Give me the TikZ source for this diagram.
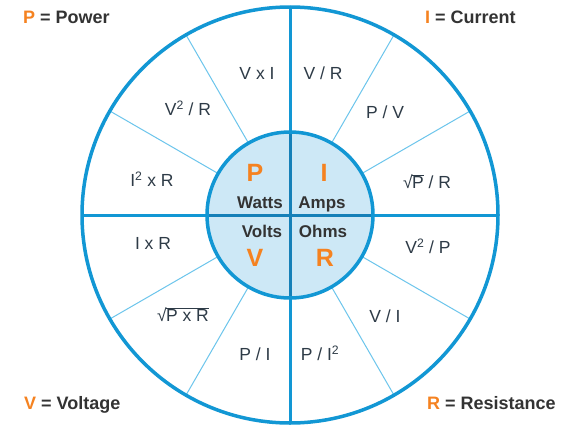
\documentclass[tikz,border=0pt]{standalone}
\usepackage{fontspec}
\setmainfont{Liberation Sans}
\usetikzlibrary{calc}
\definecolor{mainblue}{HTML}{1297D4}
\definecolor{darkblue}{HTML}{1580B8}
\definecolor{spokeblue}{HTML}{6CC5EC}
\definecolor{innerfill}{HTML}{CDE8F6}
\definecolor{orng}{HTML}{F58220}
\definecolor{txt}{HTML}{2E3B47}
\definecolor{lbl}{HTML}{333333}
\newcommand\mysq[1]{√\kern-0.6pt\vbox{\hrule height0.7pt\kern1.0pt\hbox{#1}}}
\begin{document}
\begin{tikzpicture}[x=1pt,y=-1pt,
  formula/.style={font=\fontsize{17.5}{20}\selectfont, text=txt, inner sep=0pt, anchor=base},
  unitlbl/.style={font=\fontsize{17}{20}\selectfont\bfseries, text=lbl, inner sep=0pt, anchor=base},
  bigletter/.style={font=\fontsize{25}{28}\selectfont\bfseries, text=orng, inner sep=0pt, anchor=base},
  legendlbl/.style={font=\fontsize{18}{20}\selectfont\bfseries, text=lbl, inner sep=0pt, anchor=base west},
  spokeline/.style={spokeblue, line width=1pt},
  mainline/.style={mainblue, line width=3pt},
  innerline/.style={darkblue, line width=3pt}]
\fill[white] (0,0) rectangle (575,431);
\useasboundingbox (0,0) rectangle (575,431);
\coordinate (O) at (290,215);
% spokes
\foreach \a in {30,60,120,150,210,240,300,330}
  \draw[spokeline] ($(O)+(\a:83)$) -- ($(O)+(\a:208)$);
% quadrant lines
\coordinate (Wo) at ($(O)+(-208,0)$);
\coordinate (Eo) at ($(O)+(208,0)$);
\coordinate (No) at ($(O)+(0,-208)$);
\coordinate (So) at ($(O)+(0,208)$);
\draw[mainline] (Wo) -- (Eo);
\draw[mainline] (No) -- (So);
% outer circle
\draw[mainblue, line width=3.5pt] (O) circle (208);
% inner circle
\fill[innerfill] (O) circle (83);
\coordinate (Wi) at ($(O)+(-83,0)$);
\coordinate (Ei) at ($(O)+(83,0)$);
\coordinate (Ni) at ($(O)+(0,-83)$);
\coordinate (Si) at ($(O)+(0,83)$);
\draw[innerline] (Wi) -- (Ei);
\draw[innerline] (Ni) -- (Si);
\draw[mainblue, line width=3.5pt] (O) circle (83);
% inner labels
\node[bigletter] (bP) at (255,181) {P};
\node[bigletter] (bI) at (324,181) {I};
\node[bigletter] (bV) at (255,266) {V};
\node[bigletter] (bR) at (325,266) {R};
\node[unitlbl] (uW) at (260,208) {Watts};
\node[unitlbl] (uA) at (322,208) {Amps};
\node[unitlbl] (uV) at (262,237) {Volts};
\node[unitlbl] (uO) at (323,237) {Ohms};
% formulas
\node[formula] (f1) at (257,79.5) {V x I};
\node[formula] (f2) at (188,115.5) {V\textsuperscript{2} / R};
\node[formula] (f3) at (152,186.5) {I\textsuperscript{2} x R};
\node[formula] (f4) at (323,79.5) {V / R};
\node[formula] (f5) at (385,118.5) {P / V};
\node[formula] (f6) at (427,188.5) {\mysq{P} / R};
\node[formula] (f7) at (153,249.5) {I x R};
\node[formula] (f8) at (183,321.5) {\mysq{P x R}};
\node[formula] (f9) at (255,360.5) {P / I};
\node[formula] (f10) at (428,253.5) {V\textsuperscript{2} / P};
\node[formula] (f11) at (385,322.5) {V / I};
\node[formula] (f12) at (320,360.5) {P / I\textsuperscript{2}};
% legend
\node[legendlbl] (lP) at (23,23.5) {\textcolor{orng}{P} = Power};
\node[legendlbl] (lI) at (425,23.5) {\textcolor{orng}{I} = Current};
\node[legendlbl] (lV) at (24,409.5) {\textcolor{orng}{V} = Voltage};
\node[legendlbl] (lR) at (427,409.5) {\textcolor{orng}{R} = Resistance};
\end{tikzpicture}
\end{document}
